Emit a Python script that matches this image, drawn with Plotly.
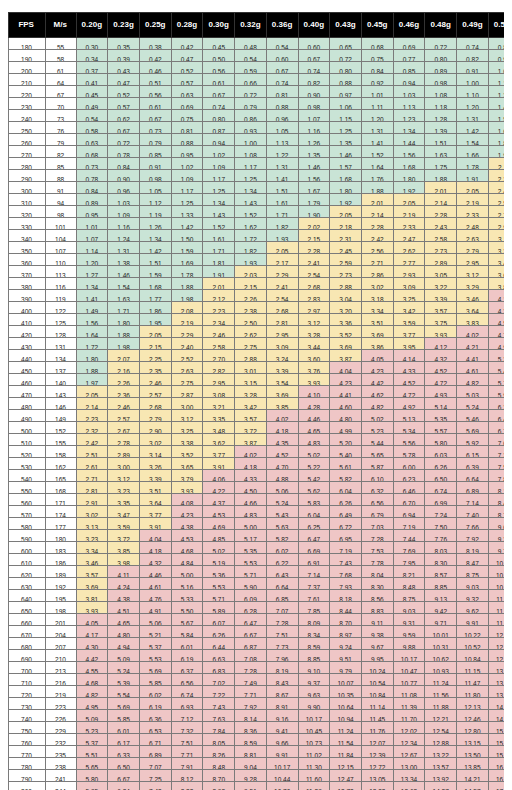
import plotly.graph_objects as go

# header labels
weights = ["0.20g", "0.23g", "0.25g", "0.28g", "0.30g", "0.32g", "0.36g",
           "0.40g", "0.43g", "0.45g", "0.46g", "0.48g", "0.49g", "0.58g"]

fps = list(range(180, 801, 10))
mps = [55, 58, 61, 64, 67, 70, 73, 76, 79, 82, 85, 88, 91, 94, 98, 101, 104, 107, 110,
       113, 116, 119, 122, 125, 128, 131, 134, 137, 140, 143, 146, 149, 152, 155, 158,
       162, 165, 168, 171, 174, 177, 180, 183, 186, 189, 192, 195, 198, 201, 204, 207,
       210, 213, 216, 219, 223, 226, 229, 232, 235, 238, 241, 244]

# joules per row (one row per FPS value)
rows_low = """
0.30 0.35 0.38 0.42 0.45 0.48 0.54 0.60 0.65 0.68 0.69 0.72 0.74 0.87
0.34 0.39 0.42 0.47 0.50 0.54 0.60 0.67 0.72 0.75 0.77 0.80 0.82 0.97
0.37 0.43 0.46 0.52 0.56 0.59 0.67 0.74 0.80 0.84 0.85 0.89 0.91 1.08
0.41 0.47 0.51 0.57 0.61 0.66 0.74 0.82 0.88 0.92 0.94 0.98 1.00 1.19
0.45 0.52 0.56 0.63 0.67 0.72 0.81 0.90 0.97 1.01 1.03 1.08 1.10 1.30
0.49 0.57 0.61 0.69 0.74 0.79 0.88 0.98 1.06 1.11 1.13 1.18 1.20 1.43
0.54 0.62 0.67 0.75 0.80 0.86 0.96 1.07 1.15 1.20 1.23 1.28 1.31 1.55
0.58 0.67 0.73 0.81 0.87 0.93 1.05 1.16 1.25 1.31 1.34 1.39 1.42 1.68
0.63 0.72 0.79 0.88 0.94 1.00 1.13 1.26 1.35 1.41 1.44 1.51 1.54 1.82
0.68 0.78 0.85 0.95 1.02 1.08 1.22 1.35 1.46 1.52 1.56 1.63 1.66 1.96
0.73 0.84 0.91 1.02 1.09 1.17 1.31 1.46 1.57 1.64 1.68 1.75 1.78 2.11
0.78 0.90 0.98 1.09 1.17 1.25 1.41 1.56 1.68 1.76 1.80 1.88 1.91 2.27
0.84 0.96 1.05 1.17 1.25 1.34 1.51 1.67 1.80 1.88 1.92 2.01 2.05 2.42
0.89 1.03 1.12 1.25 1.34 1.43 1.61 1.79 1.92 2.01 2.05 2.14 2.19 2.59
0.95 1.09 1.19 1.33 1.43 1.52 1.71 1.90 2.05 2.14 2.19 2.28 2.33 2.76
1.01 1.16 1.26 1.42 1.52 1.62 1.82 2.02 2.18 2.28 2.33 2.43 2.48 2.93
1.07 1.24 1.34 1.50 1.61 1.72 1.93 2.15 2.31 2.42 2.47 2.58 2.63 3.11
1.14 1.31 1.42 1.59 1.71 1.82 2.05 2.28 2.45 2.56 2.62 2.73 2.79 3.30
1.20 1.38 1.51 1.69 1.81 1.93 2.17 2.41 2.59 2.71 2.77 2.89 2.95 3.49
1.27 1.46 1.59 1.78 1.91 2.03 2.29 2.54 2.73 2.86 2.93 3.05 3.12 3.69
1.34 1.54 1.68 1.88 2.01 2.15 2.41 2.68 2.88 3.02 3.09 3.22 3.29 3.89
"""

rows_mid = """
1.41 1.63 1.77 1.98 2.12 2.26 2.54 2.83 3.04 3.18 3.25 3.39 3.46 4.10
1.49 1.71 1.86 2.08 2.23 2.38 2.68 2.97 3.20 3.34 3.42 3.57 3.64 4.31
1.56 1.80 1.95 2.19 2.34 2.50 2.81 3.12 3.36 3.51 3.59 3.75 3.83 4.53
1.64 1.88 2.05 2.29 2.46 2.62 2.95 3.28 3.52 3.69 3.77 3.93 4.02 4.75
1.72 1.98 2.15 2.40 2.58 2.75 3.09 3.44 3.69 3.86 3.95 4.12 4.21 4.98
1.80 2.07 2.25 2.52 2.70 2.88 3.24 3.60 3.87 4.05 4.14 4.32 4.41 5.22
1.88 2.16 2.35 2.63 2.82 3.01 3.39 3.76 4.04 4.23 4.33 4.52 4.61 5.46
1.97 2.26 2.46 2.75 2.95 3.15 3.54 3.93 4.23 4.42 4.52 4.72 4.82 5.70
2.05 2.36 2.57 2.87 3.08 3.28 3.69 4.10 4.41 4.62 4.72 4.93 5.03 5.95
2.14 2.46 2.68 3.00 3.21 3.42 3.85 4.28 4.60 4.82 4.92 5.14 5.24 6.21
2.23 2.57 2.79 3.12 3.35 3.57 4.02 4.46 4.80 5.02 5.13 5.35 5.46 6.47
2.32 2.67 2.90 3.25 3.48 3.72 4.18 4.65 4.99 5.23 5.34 5.57 5.69 6.74
2.42 2.78 3.02 3.38 3.62 3.87 4.35 4.83 5.20 5.44 5.56 5.80 5.92 7.01
2.51 2.89 3.14 3.52 3.77 4.02 4.52 5.02 5.40 5.65 5.78 6.03 6.15 7.29
2.61 3.00 3.26 3.65 3.91 4.18 4.70 5.22 5.61 5.87 6.00 6.26 6.39 7.57
2.71 3.12 3.39 3.79 4.06 4.33 4.88 5.42 5.82 6.10 6.23 6.50 6.64 7.86
2.81 3.23 3.51 3.93 4.22 4.50 5.06 5.62 6.04 6.32 6.46 6.74 6.89 8.15
2.91 3.35 3.64 4.08 4.37 4.66 5.24 5.83 6.26 6.56 6.70 6.99 7.14 8.45
3.02 3.47 3.77 4.23 4.53 4.83 5.43 6.04 6.49 6.79 6.94 7.24 7.40 8.75
3.13 3.59 3.91 4.38 4.69 5.00 5.63 6.25 6.72 7.03 7.19 7.50 7.66 9.06
3.23 3.72 4.04 4.53 4.85 5.17 5.82 6.47 6.95 7.28 7.44 7.76 7.92 9.38
"""

rows_high = """
3.34 3.85 4.18 4.68 5.02 5.35 6.02 6.69 7.19 7.53 7.69 8.03 8.19 9.70
3.46 3.98 4.32 4.84 5.19 5.53 6.22 6.91 7.43 7.78 7.95 8.30 8.47 10.03
3.57 4.11 4.46 5.00 5.36 5.71 6.43 7.14 7.68 8.04 8.21 8.57 8.75 10.36
3.69 4.24 4.61 5.16 5.53 5.90 6.64 7.37 7.93 8.30 8.48 8.85 9.03 10.69
3.81 4.38 4.76 5.33 5.71 6.09 6.85 7.61 8.18 8.56 8.75 9.13 9.32 11.04
3.93 4.51 4.91 5.50 5.89 6.28 7.07 7.85 8.44 8.83 9.03 9.42 9.62 11.38
4.05 4.65 5.06 5.67 6.07 6.47 7.28 8.09 8.70 9.11 9.31 9.71 9.91 11.74
4.17 4.80 5.21 5.84 6.26 6.67 7.51 8.34 8.97 9.38 9.59 10.01 10.22 12.09
4.30 4.94 5.37 6.01 6.44 6.87 7.73 8.59 9.24 9.67 9.88 10.31 10.52 12.46
4.42 5.09 5.53 6.19 6.63 7.08 7.96 8.85 9.51 9.95 10.17 10.62 10.84 12.83
4.55 5.24 5.69 6.37 6.83 7.28 8.19 9.10 9.79 10.24 10.47 10.93 11.15 13.20
4.68 5.39 5.85 6.56 7.02 7.49 8.43 9.37 10.07 10.54 10.77 11.24 11.47 13.58
4.82 5.54 6.02 6.74 7.22 7.71 8.67 9.63 10.35 10.84 11.08 11.56 11.80 13.97
4.95 5.69 6.19 6.93 7.43 7.92 8.91 9.90 10.64 11.14 11.39 11.88 12.13 14.36
5.09 5.85 6.36 7.12 7.63 8.14 9.16 10.17 10.94 11.45 11.70 12.21 12.46 14.75
5.23 6.01 6.53 7.32 7.84 8.36 9.41 10.45 11.24 11.76 12.02 12.54 12.80 15.15
5.37 6.17 6.71 7.51 8.05 8.59 9.66 10.73 11.54 12.07 12.34 12.88 13.15 15.56
5.51 6.33 6.89 7.71 8.26 8.81 9.91 11.02 11.84 12.39 12.67 13.22 13.50 15.97
5.65 6.50 7.07 7.91 8.48 9.04 10.17 11.30 12.15 12.72 13.00 13.57 13.85 16.39
5.80 6.67 7.25 8.12 8.70 9.28 10.44 11.60 12.47 13.05 13.34 13.92 14.21 16.81
5.95 6.84 7.43 8.32 8.92 9.51 10.70 11.89 12.78 13.38 13.68 14.27 14.57 17.24
"""

rows = [ln.split() for block in (rows_low, rows_mid, rows_high)
        for ln in block.strip().splitlines()]

GREEN, YELLOW, RED = "#c9e4d6", "#f8e7b3", "#efc6c6"


def shade(v):
    v = float(v)
    if v < 2.0:
        return GREEN
    if v < 4.0:
        return YELLOW
    return RED


cols = [[str(f) for f in fps], [str(m) for m in mps]]
fills = [["white"] * len(fps), ["white"] * len(fps)]
for j in range(len(weights)):
    col = [r[j] for r in rows]
    cols.append(col)
    fills.append([shade(v) for v in col])

fig = go.Figure(go.Table(
    columnwidth=[37, 31] + [31.7] * len(weights),
    header=dict(
        values=["<b>FPS</b>", "<b>M/s</b>"] + ["<b>%s</b>" % w for w in weights],
        fill_color="black",
        line_color="#333",
        font=dict(color="white", size=8, family="Liberation Sans"),
        align="center",
        height=18,
    ),
    cells=dict(
        values=cols,
        fill_color=fills,
        line_color="#7a7a7a",
        font=dict(color="#222", size=6.5, family="Liberation Sans"),
        align="center",
        height=12,
    ),
))

fig.update_layout(
    width=512, height=790,
    margin=dict(l=0, r=0, t=4, b=0),
    paper_bgcolor="white",
)

fig.write_html("out.html")
